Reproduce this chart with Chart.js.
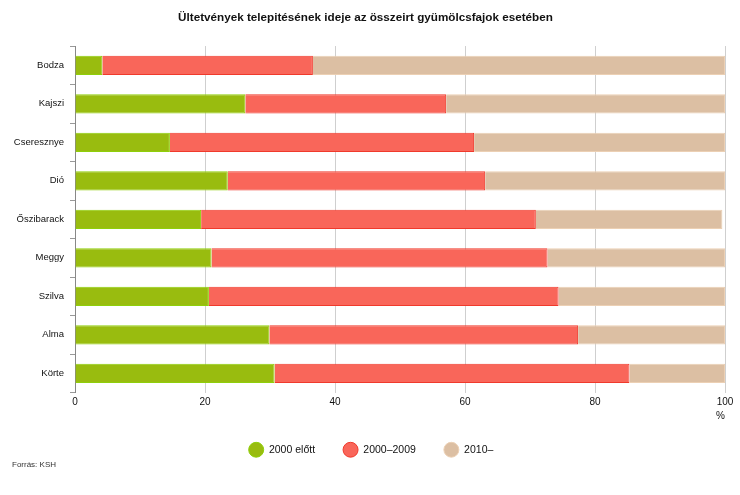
<!DOCTYPE html>
<html>
<head>
<meta charset="utf-8">
<script src="https://cdn.jsdelivr.net/npm/chart.js@4/dist/chart.umd.min.js"></script>
<style>
  html, body { margin: 0; padding: 0; background: #fff; }
  #wrap { width: 740px; height: 495px; position: relative; }
</style>
</head>
<body>
<div id="wrap"><canvas id="c" width="740" height="495"></canvas></div>
<script>
const titleText = 'Ültetvények telepitésének ideje az összeirt gyümölcsfajok esetében';
const sourceText = 'Forrás: KSH';
const categories = ['Bodza', 'Kajszi', 'Cseresznye', 'Dió', 'Őszibarack', 'Meggy', 'Szilva', 'Alma', 'Körte'];
const seriesNames = ['2000 előtt', '2000–2009', '2010–'];
const before2000 = [4.2, 26.2, 14.6, 23.5, 19.4, 21.0, 20.6, 29.9, 30.7];
const from2000to2009 = [32.4, 30.9, 46.8, 39.6, 51.5, 51.7, 53.8, 47.5, 54.6];
const since2010 = [63.4, 42.9, 38.6, 36.9, 28.7, 27.3, 25.6, 22.6, 14.7];
const xTicks = [0, 20, 40, 60, 80, 100];

const FONT = "'Liberation Sans', Arial, sans-serif";

const sourcePlugin = {
  id: 'sourceText',
  afterLayout(chart) {
    // centre legend and title like the reference
    if (chart.legend) chart.legend.left += 17;
    if (chart.titleBlock) chart.titleBlock.left += 6;
  },
  afterDraw(chart) {
    const ctx = chart.ctx;
    ctx.save();
    ctx.font = '8px ' + FONT;
    ctx.fillStyle = '#333';
    ctx.textAlign = 'left';
    ctx.textBaseline = 'middle';
    ctx.fillText(sourceText, 12, 465);
    ctx.restore();
  }
};

new Chart(document.getElementById('c'), {
  type: 'bar',
  data: {
    labels: categories,
    datasets: [
      { label: seriesNames[0], data: before2000, backgroundColor: '#99bc0f', borderColor: '#8fcf0a', borderWidth: 1 },
      { label: seriesNames[1], data: from2000to2009, backgroundColor: '#f9665a', borderColor: '#f03a2c', borderWidth: 1 },
      { label: seriesNames[2], data: since2010, backgroundColor: '#dcbfa3', borderColor: '#ecd0b4', borderWidth: 1 }
    ]
  },
  options: {
    indexAxis: 'y',
    responsive: false,
    animation: false,
    devicePixelRatio: 1,
    layout: { padding: { left: 0, right: 15, top: 0, bottom: 30 } },
    datasets: { bar: { categoryPercentage: 1, barPercentage: 0.5 } },
    scales: {
      x: {
        stacked: true,
        min: 0, max: 100,
        afterBuildTicks(scale) { scale.ticks = xTicks.map(v => ({ value: v })); },
        grid: { color: '#cfcfcf', lineWidth: 1, drawTicks: false },
        border: { display: false },
        ticks: { color: '#111', font: { family: FONT, size: 10 }, padding: 4 },
        title: { display: true, text: '%', align: 'end', color: '#111', font: { family: FONT, size: 10 }, padding: { top: -2, bottom: -6 } }
      },
      y: {
        stacked: true,
        afterFit(scale) { scale.width = 75; },
        grid: { drawOnChartArea: false, color: '#999', tickLength: 5, offset: true },
        border: { display: true, color: '#888', width: 1 },
        ticks: { color: '#111', font: { family: FONT, size: 9.5 }, padding: 6 }
      }
    },
    plugins: {
      title: {
        display: true,
        text: titleText,
        color: '#111',
        font: { family: FONT, size: 11.7, weight: 'bold' },
        padding: { top: 11, bottom: 21 }
      },
      legend: {
        position: 'bottom',
        labels: {
          usePointStyle: true,
          pointStyle: 'circle',
          pointStyleWidth: 15,
          boxHeight: 11,
          padding: 28,
          color: '#111',
          font: { family: FONT, size: 10.5 }
        }
      },
      tooltip: { enabled: false }
    }
  },
  plugins: [sourcePlugin]
});
</script>
</body>
</html>
